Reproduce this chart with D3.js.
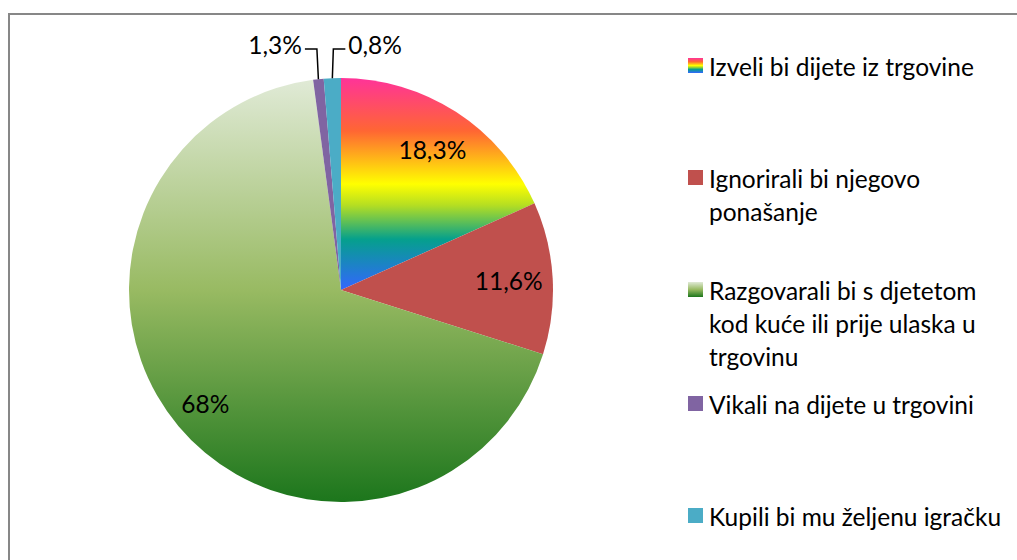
<!DOCTYPE html>
<html><head><meta charset="utf-8">
<script src="https://cdn.jsdelivr.net/npm/d3@7"></script>
<style>body{margin:0;background:#fff;} svg{display:block;} text{font-family:Lato, "Noto Sans", sans-serif;}</style>
</head><body><svg id="c" width="1017" height="560"></svg>
<script>
const categories = ["Izveli bi dijete iz trgovine","Ignorirali bi njegovo ponašanje","Razgovarali bi s djetetom kod kuće ili prije ulaska u trgovinu","Vikali na dijete u trgovini","Kupili bi mu željenu igračku"];
const legendLines = [["Izveli bi dijete iz trgovine"],["Ignorirali bi njegovo","ponašanje"],["Razgovarali bi s djetetom","kod kuće ili prije ulaska u","trgovinu"],["Vikali na dijete u trgovini"],["Kupili bi mu željenu igračku"]];
const values = [18.3, 11.6, 68, 0.8, 1.3];
const valueLabels = ["18,3%","11,6%","68%","1,3%","0,8%"];
const colors = ["url(#rainbow)","#C0504D","url(#greenGrad)","#8064A2","#4BACC6"];

const svg = d3.select("#c");
const defs = svg.append("defs");
const rb = defs.append("linearGradient").attr("id","rainbow").attr("x1",0).attr("y1",0).attr("x2",0).attr("y2",1);
[[0,"#FF3399"],[0.25,"#FF6633"],[0.5,"#FFFF00"],[0.6,"#B5DE22"],[0.76,"#05A08C"],[1,"#3366FF"]].forEach(s=>rb.append("stop").attr("offset",s[0]).attr("stop-color",s[1]));
const gg = defs.append("linearGradient").attr("id","greenGrad").attr("x1",0).attr("y1",0).attr("x2",0).attr("y2",1);
[[0,"#E0EAD6"],[0.5,"#98BA62"],[1,"#1C761C"]].forEach(s=>gg.append("stop").attr("offset",s[0]).attr("stop-color",s[1]));

// frame
svg.append("path").attr("d","M9,560 L9,14 L1017,14").attr("fill","none").attr("stroke","#878787").attr("stroke-width",2);

const cx = 341, cy = 290, r = 212;
const g = svg.append("g").attr("transform",`translate(${cx},${cy})`);
const pie = d3.pie().sort(null).value(d=>d);
const arcs = pie(values);
const arc = d3.arc().innerRadius(0).outerRadius(r);
g.selectAll("path.slice").data(arcs).join("path").attr("class","slice")
  .attr("d",arc).attr("fill",(d,i)=>colors[i]);

const fs = 24.5;
arcs.forEach((d,i)=>{
  if (values[i] > 5) {
    const lr = values[i] > 50 ? 177 : 168;
    const c = d3.arc().innerRadius(lr).outerRadius(lr).centroid(d);
    g.append("text").attr("x",c[0]).attr("y",c[1]).attr("text-anchor","middle").attr("dominant-baseline","central")
      .attr("font-size",fs).attr("fill","#000").text(valueLabels[i]);
  } else {
    const a = (d.startAngle+d.endAngle)/2;
    const px = r*Math.sin(a), py = -r*Math.cos(a);
    const left = i === 3;
    const ex = px + (left ? -1.5 : 1), ey = -241;
    const hx = ex + (left ? -12 : 12);
    g.append("path").attr("d",`M${px},${py} L${ex},${ey} L${hx},${ey}`).attr("fill","none").attr("stroke","#000").attr("stroke-width",1.5);
    g.append("text").attr("x",hx + (left?-3:3)).attr("y",ey-5).attr("text-anchor",left?"end":"start").attr("dominant-baseline","central")
      .attr("font-size",fs).attr("fill","#000").text(valueLabels[i]);
  }
});

// legend
const legendY = [66,178,290,404,516];
const lg = svg.append("g");
const swatchFill = ["url(#rainbow)","#C0504D","url(#greenGrad)","#8064A2","#4BACC6"];
legendLines.forEach((lines,i)=>{
  const y0 = legendY[i];
  lg.append("rect").attr("x",688).attr("y",y0-8).attr("width",15).attr("height",15).attr("fill",swatchFill[i]);
  lines.forEach((t,j)=>{
    lg.append("text").attr("x",709).attr("y",y0 + j*33).attr("dominant-baseline","central")
      .attr("font-size",fs).attr("fill","#000").text(t);
  });
});
</script></body></html>
